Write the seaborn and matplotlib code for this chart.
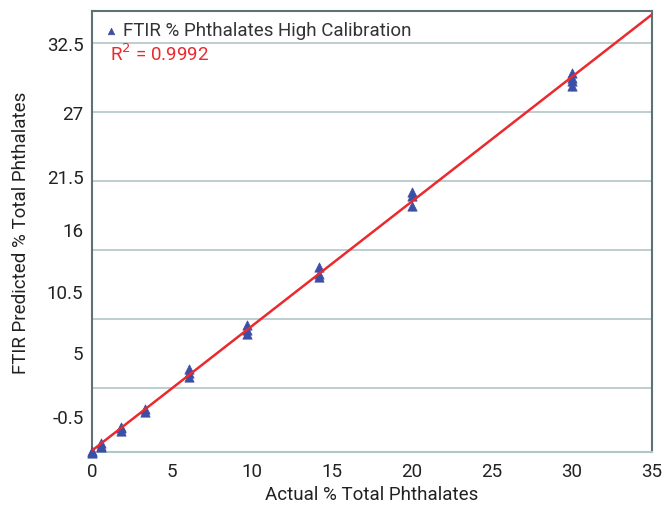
import numpy as np
import seaborn as sns
import matplotlib.pyplot as plt

# actual vs FTIR predicted, replicates
actual = [0, 0, 0,
          0.6, 0.6, 0.6,
          1.8, 1.8, 1.8,
          3.3, 3.3,
          6.1, 6.1, 6.1,
          9.7, 9.7, 9.7,
          14.2, 14.2, 14.2,
          20.0, 20.0, 20.0,
          30.0, 30.0, 30.0, 30.0]
predicted = [0.0, -0.1, 0.1,
             0.4, 0.7, 0.5,
             1.7, 1.9, 2.0,
             3.2, 3.4,
             6.0, 6.3, 6.6,
             9.4, 9.7, 10.1,
             13.9, 14.2, 14.7,
             19.6, 20.4, 20.7,
             29.1, 29.5, 29.8, 30.2]

x_ticks = [0, 5, 10, 15, 20, 25, 30, 35]
y_labels = ['32.5', '27', '21.5', '16', '10.5', '5', '-0.5']
y_label_pos = [32.6, 27.1, 22.0, 17.75, 12.8, 7.96, 2.87]
y_grid = [5.1, 10.6, 16.1, 21.6, 27.1, 32.6]

sns.set_style('white')
plt.rcParams['font.family'] = ['Roboto', 'DejaVu Sans']

grid_c = '#b3c6c6'
spine_c = '#5d7272'
txt_c = '#222222'

fig = plt.figure(figsize=(6.65, 5.06), dpi=100)
ax = fig.add_axes([0.138, 0.105, 0.842, 0.871])

sns.scatterplot(x=actual, y=predicted, marker='^', s=45, color='#3c4fa6',
                edgecolor='#3c4fa6', linewidth=0.5, ax=ax, clip_on=False,
                zorder=3, label='FTIR % Phthalates High Calibration')

slope, icpt = np.polyfit(actual, predicted, 1)
xs = np.array([0, 35])
ax.plot(xs, slope * xs + icpt, color='#ea2a2e', lw=1.8, zorder=4)

ax.set_xlim(0, 35)
ax.set_ylim(0, 35.1)
ax.set_xticks(x_ticks)
ax.set_yticks(y_label_pos)
ax.set_yticklabels(y_labels)
ax.yaxis.remove_overlapping_locs = False
ax.set_yticks(y_grid, minor=True)
ax.yaxis.grid(True, which='minor', color=grid_c, lw=1.2)
ax.tick_params(axis='y', which='major', length=0, pad=6, labelsize=13.5, labelcolor=txt_c)
ax.tick_params(axis='y', which='minor', length=6, color=grid_c, width=1.2)
ax.tick_params(axis='x', length=4, direction='inout', color=grid_c, width=1.2,
               labelsize=13.5, labelcolor=txt_c, pad=5)

for side in ['left', 'top', 'right']:
    ax.spines[side].set_color(spine_c)
    ax.spines[side].set_linewidth(1.5)
ax.spines['bottom'].set_color(grid_c)
ax.spines['bottom'].set_linewidth(1.5)

ax.set_xlabel('Actual % Total Phthalates', fontsize=13.5, color=txt_c, labelpad=4)
ax.set_ylabel('FTIR Predicted % Total Phthalates', fontsize=13.5, color=txt_c, labelpad=12)

leg = ax.legend(loc='upper left', frameon=False, fontsize=13.5, handletextpad=0.1,
                handlelength=1.0, borderaxespad=0.15, markerscale=0.7)
for t in leg.get_texts():
    t.set_color('#333333')
ax.text(0.032, 0.905, 'R$^2$ = 0.9992', transform=ax.transAxes, color='#ea2a2e',
        fontsize=13.5, va='center')

fig.savefig('out.png', dpi=100)
